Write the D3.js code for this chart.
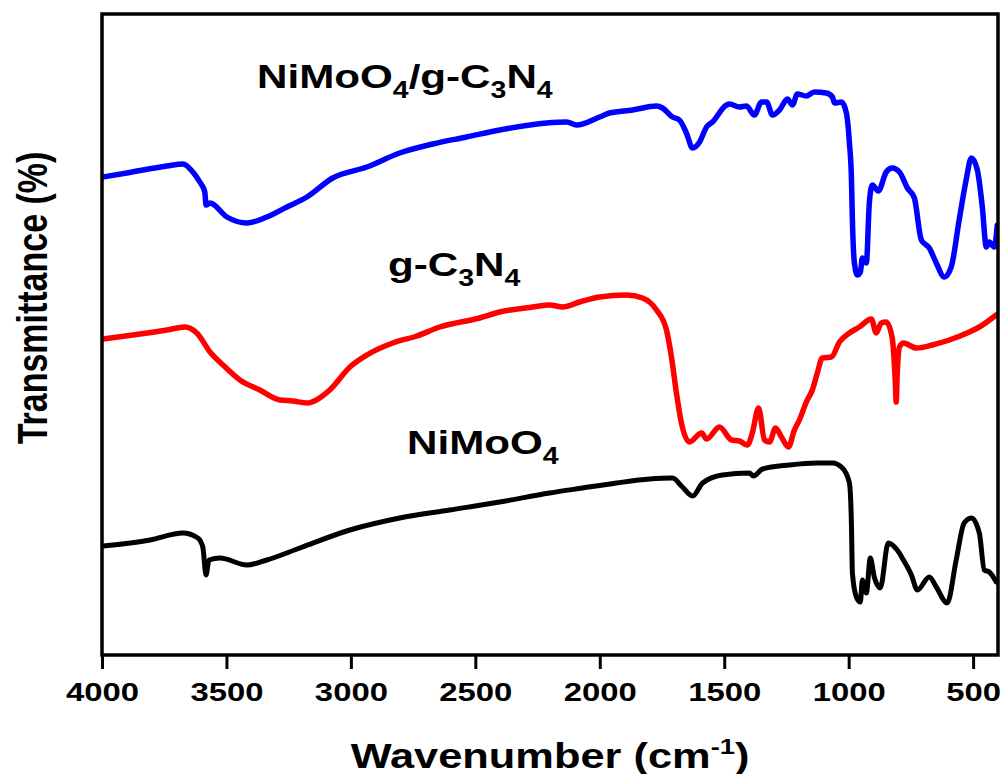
<!DOCTYPE html>
<html>
<head>
<meta charset="utf-8">
<script src="https://cdn.jsdelivr.net/npm/d3@7"></script>
<style>
  html, body { margin: 0; padding: 0; background: #fff; }
  svg { display: block; }
  text { font-family: "Liberation Sans", Arial, Helvetica, sans-serif; font-weight: bold; fill: #000; }
</style>
</head>
<body>
<svg id="chart" width="1003" height="774"></svg>
<script>
// FTIR spectra, wavenumber (cm-1) vs transmittance (arbitrary offset units)
const xTicks = [4000, 3500, 3000, 2500, 2000, 1500, 1000, 500];

const compositeWave = [3996,3900,3739,3675,3635,3607,3587,3582,3566,3498,3418,3338,3257,3177,3073,2936,2804,2671,2535,2402,2214,2133,2093,2001,1961,1868,1772,1748,1708,1680,1652,1627,1599,1571,1547,1491,1479,1439,1411,1379,1350,1330,1306,1278,1246,1226,1206,1170,1138,1090,1065,1057,1029,1009,997,989,985,977,965,953,945,929,917,905,881,849,825,796,764,736,708,676,648,616,588,556,528,507,483,463,447,435,415,403];
const compositeT    = [47.8,48.2,48.9,49.1,48.3,47.3,46.3,45.0,45.2,43.8,43.2,43.8,44.8,45.8,47.7,48.8,50.2,51.1,51.8,52.5,53.2,53.3,53.0,53.8,54.2,54.5,54.9,54.7,53.8,53.5,52.2,50.7,51.3,52.8,53.3,55.0,55.1,54.8,54.9,54.0,55.3,55.3,54.0,54.5,55.6,55.0,56.1,55.9,56.3,56.2,55.8,55.2,55.3,54.2,51.2,47.8,43.5,39.2,38.0,38.3,39.7,39.2,45.2,47.0,46.4,48.3,48.7,48.3,46.7,45.7,41.5,40.7,39.2,37.8,38.8,43.5,47.5,49.7,48.5,44.8,40.8,41.3,40.8,43.0];

const cnWave = [3996,3876,3739,3667,3619,3566,3514,3446,3366,3285,3233,3177,3085,3004,2936,2832,2735,2643,2483,2402,2270,2202,2149,2081,2001,1892,1828,1772,1732,1712,1692,1672,1640,1591,1571,1519,1471,1439,1407,1387,1362,1338,1318,1294,1270,1242,1218,1198,1170,1146,1126,1106,1069,1037,997,957,909,889,869,849,825,813,809,805,796,780,728,664,596,515,475,407];
const cnT    = [31.6,32.0,32.5,32.8,32.2,30.3,29.0,27.5,26.5,25.5,25.4,25.2,26.5,28.8,30.0,31.2,31.9,32.8,33.7,34.3,34.8,35.0,34.8,35.3,35.8,36.0,35.7,34.5,32.5,29.8,26.2,23.2,21.3,22.2,21.6,22.8,21.5,21.4,21.0,22.2,24.7,21.5,21.3,22.7,21.8,20.8,22.5,23.5,25.3,26.5,28.2,29.7,29.8,31.3,32.2,32.8,33.6,32.2,33.2,33.3,31.7,27.5,25.3,28.0,30.8,31.2,30.7,31.0,31.5,32.3,32.8,34.0];

const nmoWave = [3996,3807,3675,3615,3595,3582,3570,3526,3418,3338,3205,3004,2804,2603,2402,2202,2069,1933,1800,1708,1668,1627,1587,1507,1399,1383,1346,1238,1130,1065,1025,997,989,985,969,953,945,929,913,897,873,841,805,780,748,724,676,648,604,568,536,507,475,455,435,407];
const nmoT    = [10.9,11.5,12.2,11.7,10.8,8.0,9.5,9.7,9.0,9.5,10.7,12.5,13.7,14.5,15.3,16.2,16.7,17.2,17.6,17.7,16.8,15.9,17.2,18.0,18.2,17.9,18.6,19.0,19.2,19.2,18.7,17.2,13.2,8.2,5.8,5.3,7.5,6.2,9.7,7.8,6.7,11.2,10.5,9.5,8.0,6.5,7.8,6.8,5.2,9.5,13.2,13.7,12.2,8.5,8.3,7.3];

const seriesNames  = ["NiMoO4/g-C3N4", "g-C3N4", "NiMoO4"];
const seriesColors = ["#0000ff", "#ff0000", "#000000"];

const svg = d3.select("#chart");
const plot = { left: 102, right: 998, top: 14, bottom: 655 };
const stretch = 1.24; // wide lettering used throughout the figure

const x = d3.scaleLinear().domain([4000, 400]).range([plot.left, plot.right]);
const y = d3.scaleLinear().domain([0, 64.1]).range([plot.bottom, plot.top]);

const series = [
  { name: seriesNames[0], color: seriesColors[0], pts: d3.zip(compositeWave, compositeT) },
  { name: seriesNames[1], color: seriesColors[1], pts: d3.zip(cnWave, cnT) },
  { name: seriesNames[2], color: seriesColors[2], pts: d3.zip(nmoWave, nmoT) }
];

const line = d3.line()
  .x(d => x(d[0]))
  .y(d => y(d[1]))
  .curve(d3.curveMonotoneX);

svg.append("defs").append("clipPath").attr("id", "clip")
  .append("rect")
  .attr("x", plot.left).attr("y", plot.top)
  .attr("width", plot.right - plot.left).attr("height", plot.bottom - plot.top);

svg.append("g").attr("clip-path", "url(#clip)")
  .selectAll("path")
  .data(series)
  .join("path")
  .attr("d", d => line(d.pts))
  .attr("fill", "none")
  .attr("stroke", d => d.color)
  .attr("stroke-width", d => d.color === "#000000" ? 5 : 5.5)
  .attr("stroke-linejoin", "round")
  .attr("stroke-linecap", "round");

// bottom axis with outward ticks
const xAxis = d3.axisBottom(x)
  .tickValues(xTicks)
  .tickSize(14)
  .tickSizeOuter(0)
  .tickFormat(d3.format("d"));

const gx = svg.append("g")
  .attr("transform", `translate(0,${plot.bottom})`)
  .call(xAxis);
gx.select(".domain").remove();
gx.selectAll(".tick line").attr("stroke", "#000").attr("stroke-width", 3);
gx.selectAll(".tick text")
  .attr("y", 46)
  .attr("dy", 0)
  .attr("transform", `scale(${stretch},1)`)
  .style("font-size", "26.5px")
  .style("font-family", "'Liberation Sans', Arial, sans-serif")
  .style("font-weight", "bold")
  .attr("fill", "#000");

// frame
svg.append("rect")
  .attr("x", plot.left).attr("y", plot.top)
  .attr("width", plot.right - plot.left).attr("height", plot.bottom - plot.top)
  .attr("fill", "none").attr("stroke", "#000").attr("stroke-width", 3.5);

// axis titles
const xt = svg.append("text")
  .attr("transform", `translate(550,768) scale(${stretch},1)`)
  .attr("text-anchor", "middle")
  .style("font-size", "35px");
xt.append("tspan").text("Wavenumber (cm");
xt.append("tspan").attr("dy", -14).style("font-size", "22px").text("-1");
xt.append("tspan").attr("dy", 14).text(")");

svg.append("text")
  .attr("transform", `translate(47,298) scale(${stretch},1) rotate(-90)`)
  .attr("text-anchor", "middle")
  .style("font-size", "34px")
  .text("Transmittance (%)");

// series labels with subscripts
function chemLabel(parts, px, py) {
  const t = svg.append("text")
    .attr("transform", `translate(${px},${py}) scale(${stretch},1)`)
    .style("font-size", "34px");
  let low = false;
  parts.forEach(p => {
    const sub = /^[0-9]$/.test(p);
    const dy = sub && !low ? 10 : (!sub && low ? -10 : 0);
    low = sub;
    t.append("tspan").attr("dy", dy).style("font-size", sub ? "23px" : "34px").text(p);
  });
}
chemLabel(["NiMoO", "4", "/g-C", "3", "N", "4"], 257, 88);
chemLabel(["g-C", "3", "N", "4"], 388, 276);
chemLabel(["NiMoO", "4"], 407, 454);
</script>
</body>
</html>
